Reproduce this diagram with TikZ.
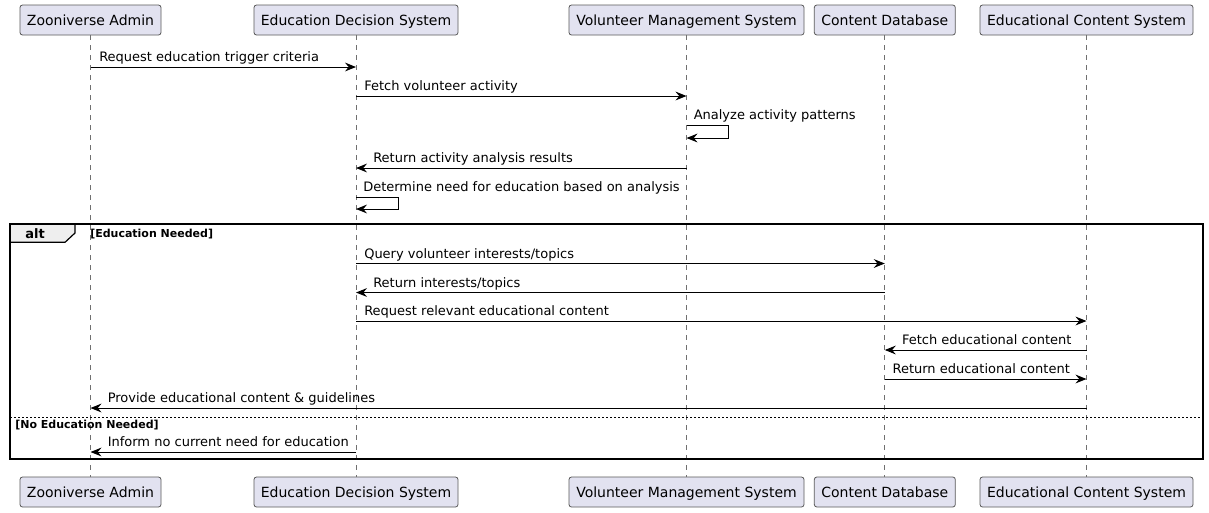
\documentclass[tikz,border=0pt]{standalone}
\usepackage{fontspec}
\setmainfont{DejaVu Sans}
\usetikzlibrary{arrows.meta,calc}
\definecolor{partfill}{HTML}{E2E2F0}
\definecolor{partline}{HTML}{5A5A5A}
\definecolor{lifecol}{HTML}{707070}
\definecolor{tabfill}{HTML}{EEEEEE}
\begin{document}
\begin{tikzpicture}[x=0.75pt,y=-0.75pt,
  part/.style={draw=partline, fill=partfill, rounded corners=1.9pt, minimum height=22.5pt, inner sep=0pt, text height=9pt, text depth=1.5pt, line width=0.6pt, font=\fontsize{10.5}{12}\selectfont},
  lifeline/.style={draw=lifecol, line width=0.5pt, dash pattern=on 3.75pt off 3.75pt},
  msg/.style={draw=black, line width=0.75pt, -{Stealth[length=8.25pt,width=6.6pt,inset=2.8pt]}},
  lbl/.style={anchor=base west, inner sep=0pt, font=\fontsize{9.75}{11}\selectfont},
  frame/.style={draw=black, line width=1.4pt},
  guard/.style={anchor=base west, inner sep=0pt, font=\fontsize{8.25}{10}\selectfont\bfseries},
]
\useasboundingbox (0,0) rectangle (1209,512);
\fill[white] (0,0) rectangle (1209,512);

% participants top
\node[part, minimum width=105.75pt] (za)  at (90.5,20)  {Zooniverse Admin};
\node[part, minimum width=153pt]    (eds) at (356,20)   {Education Decision System};
\node[part, minimum width=176.25pt] (vms) at (686.5,20) {Volunteer Management System};
\node[part, minimum width=105.75pt] (cd)  at (884.8,20) {Content Database};
\node[part, minimum width=159.75pt] (ecs) at (1086.5,20){Educational Content System};
% participants bottom
\node[part, minimum width=105.75pt] (zab)  at (90.5,492)  {Zooniverse Admin};
\node[part, minimum width=153pt]    (edsb) at (356,492)   {Education Decision System};
\node[part, minimum width=176.25pt] (vmsb) at (686.5,492) {Volunteer Management System};
\node[part, minimum width=105.75pt] (cdb)  at (884.8,492) {Content Database};
\node[part, minimum width=159.75pt] (ecsb) at (1086.5,492){Educational Content System};

% lifelines
\draw[lifeline] (za.south) -- (zab.north);
\draw[lifeline] (eds.south) -- (edsb.north);
\draw[lifeline] (vms.south) -- (vmsb.north);
\draw[lifeline] (cd.south) -- (cdb.north);
\draw[lifeline] (ecs.south) -- (ecsb.north);

% alt frame
\draw[fill=tabfill, line width=0.9pt] (10,224) -- (75,224) -- (75,233) -- (65,242.3) -- (10,242.3) -- cycle;
\node[anchor=base, inner sep=0pt, font=\fontsize{9.75}{11}\selectfont\bfseries] (alt) at (35,238) {alt};
\node[guard] (g1) at (90,237.5) {[Education Needed]};
\draw[black, line width=0.6pt, dash pattern=on 1.5pt off 1.5pt] (10,417) -- (1203,417);
\node[guard] (g2) at (15,428) {[No Education Needed]};
\draw[frame] (10,224) rectangle (1203,459);

% messages
\draw[msg] (za.south |- 0,67) -- (eds.south |- 0,67);
\node[lbl] (l1) at ($(za.south |- 0,61.5)+(8.5,0)$) {Request education trigger criteria};

\draw[msg] (eds.south |- 0,96) -- (vms.south |- 0,96);
\node[lbl] (l2) at ($(eds.south |- 0,90.5)+(8,0)$) {Fetch volunteer activity};

\draw[msg] (vms.south |- 0,125) -- ++(42,0) -- ++(0,13) -- (vms.south |- 0,138);
\node[lbl] (l3) at ($(vms.south |- 0,119.5)+(7,0)$) {Analyze activity patterns};

\draw[msg] (vms.south |- 0,168) -- (eds.south |- 0,168);
\node[lbl] (l4) at ($(eds.south |- 0,162.5)+(17,0)$) {Return activity analysis results};

\draw[msg] (eds.south |- 0,197) -- ++(42,0) -- ++(0,12) -- (eds.south |- 0,209);
\node[lbl] (l5) at ($(eds.south |- 0,191.5)+(7,0)$) {Determine need for education based on analysis};

\draw[msg] (eds.south |- 0,263.5) -- (cd.south |- 0,263.5);
\node[lbl] (l6) at ($(eds.south |- 0,258)+(8,0)$) {Query volunteer interests/topics};

\draw[msg] (cd.south |- 0,292.5) -- (eds.south |- 0,292.5);
\node[lbl] (l7) at ($(eds.south |- 0,287)+(17,0)$) {Return interests/topics};

\draw[msg] (eds.south |- 0,321) -- (ecs.south |- 0,321);
\node[lbl] (l8) at ($(eds.south |- 0,315.5)+(8,0)$) {Request relevant educational content};

\draw[msg] (ecs.south |- 0,350) -- (cd.south |- 0,350);
\node[lbl] (l9) at ($(cd.south |- 0,344.5)+(17,0)$) {Fetch educational content};

\draw[msg] (cd.south |- 0,379) -- (ecs.south |- 0,379);
\node[lbl] (l10) at ($(cd.south |- 0,373.5)+(7.5,0)$) {Return educational content};

\draw[msg] (ecs.south |- 0,408) -- (za.south |- 0,408);
\node[lbl] (l11) at ($(za.south |- 0,402.5)+(17,0)$) {Provide educational content \& guidelines};

\draw[msg] (eds.south |- 0,452) -- (za.south |- 0,452);
\node[lbl] (l12) at ($(za.south |- 0,446.5)+(17,0)$) {Inform no current need for education};
\end{tikzpicture}
\end{document}
